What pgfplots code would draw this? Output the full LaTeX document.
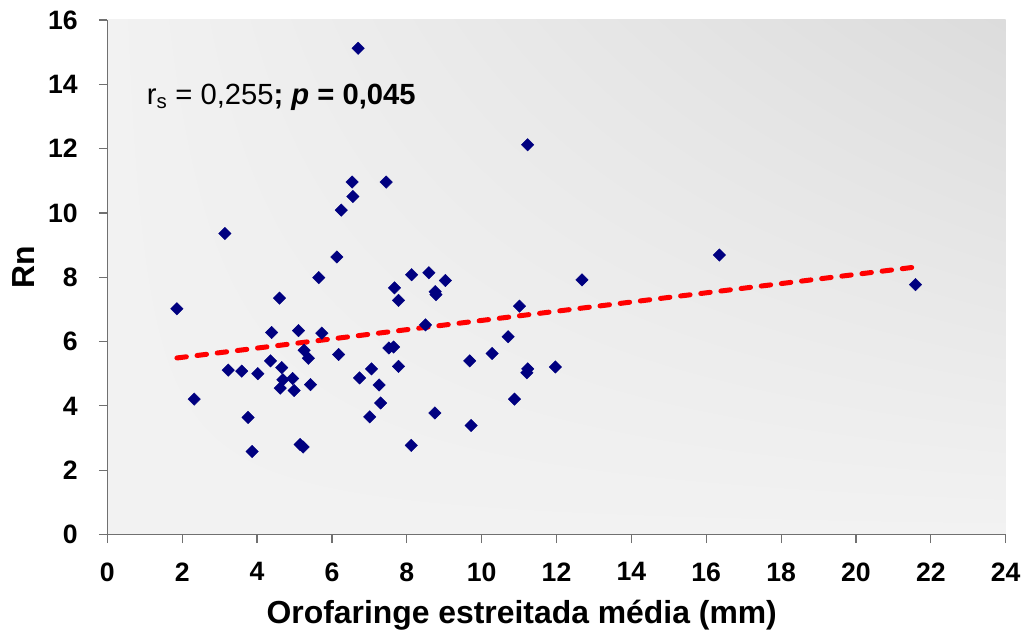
\documentclass[border=0pt]{standalone}
\usepackage{fontspec}
\setmainfont{Liberation Sans}
\usepackage{pgfplots}
\pgfplotsset{compat=1.18}
\usetikzlibrary{shadings}
\definecolor{navy}{HTML}{000080}
\definecolor{axgray}{HTML}{707070}
\definecolor{bglight}{HTML}{F2F2F2}
\definecolor{bgdark}{HTML}{DCDCDC}
\begin{document}
\begin{tikzpicture}
\begin{axis}[
  at={(0,0)}, anchor=south west,
  scale only axis, width=898.4bp, height=514.5bp,
  xmin=0, xmax=24, ymin=0, ymax=16,
  xtick={0,2,...,24}, ytick={0,2,...,16},
  axis x line*=bottom, axis y line*=left,
  axis background/.style={lower left=bglight, lower right=bglight, upper left=bglight, upper right=bgdark},
  tick align=outside, major tick length=8.5bp,
  tick style={axgray, line width=1.2bp},
  axis line style={axgray, line width=1.3bp},
  ticklabel style={font=\bfseries\fontsize{26.7}{30}\selectfont},
  /pgf/number format/assume math mode=true,
  xticklabel style={yshift=-16bp},
  yticklabel style={xshift=-17.5bp},
  label style={font=\bfseries\fontsize{32}{36}\selectfont},
  xlabel={Orofaringe estreitada média (mm)},
  ylabel={Rn},
  x label style={at={(axis description cs:0.4613,-0.1574)}, anchor=center},
  y label style={at={(axis description cs:-0.0933,0.5195)}, anchor=center},
  clip=false,
]
\addplot[only marks, mark=square*, mark size=4.4bp, mark options={rotate=45, fill=navy, draw=navy}] coordinates {
(1.86,7.02) (2.32,4.21) (3.14,9.36) (3.23,5.11) (3.59,5.08) (3.76,3.64) (3.87,2.58) (4.02,5.00)
(4.36,5.40) (4.39,6.28) (4.60,7.35) (4.62,4.55) (4.66,5.19) (4.69,4.81) (4.95,4.85) (4.99,4.48)
(5.11,6.34) (5.15,2.80) (5.23,2.72) (5.26,5.73) (5.37,5.48) (5.43,4.66) (5.65,7.99) (5.73,6.26)
(6.13,8.63) (6.18,5.60) (6.25,10.09) (6.54,10.96) (6.56,10.51) (6.70,15.12) (6.74,4.87) (7.01,3.66)
(7.06,5.15) (7.26,4.65) (7.30,4.09) (7.45,10.96) (7.52,5.80) (7.65,5.83) (7.67,7.67) (7.78,7.28)
(7.78,5.23) (8.12,2.77) (8.13,8.08) (8.50,6.52) (8.59,8.14) (8.75,3.78) (8.76,7.55) (8.78,7.46)
(9.03,7.90) (9.68,5.40) (9.72,3.39) (10.28,5.63) (10.71,6.15) (10.88,4.21) (11.01,7.10) (11.21,5.03)
(11.23,5.15) (11.23,12.12) (11.97,5.21) (12.68,7.92) (16.35,8.69) (21.59,7.77)
};
\addplot[red, line width=5bp, dash pattern=on 9.5bp off 10.8bp, line cap=round] coordinates {(1.86,5.49) (21.61,8.32)};
\node[anchor=base west, inner sep=0pt, font=\fontsize{29.3}{33}\selectfont] at (axis cs:1.053,13.36) {r\textsubscript{s} = 0,255\textbf{; \textit{p} = 0,045}};
\end{axis}
\pgfresetboundingbox
\path (-107.3bp,-104.5bp) rectangle (919.7bp,534.5bp);
\end{tikzpicture}
\end{document}
